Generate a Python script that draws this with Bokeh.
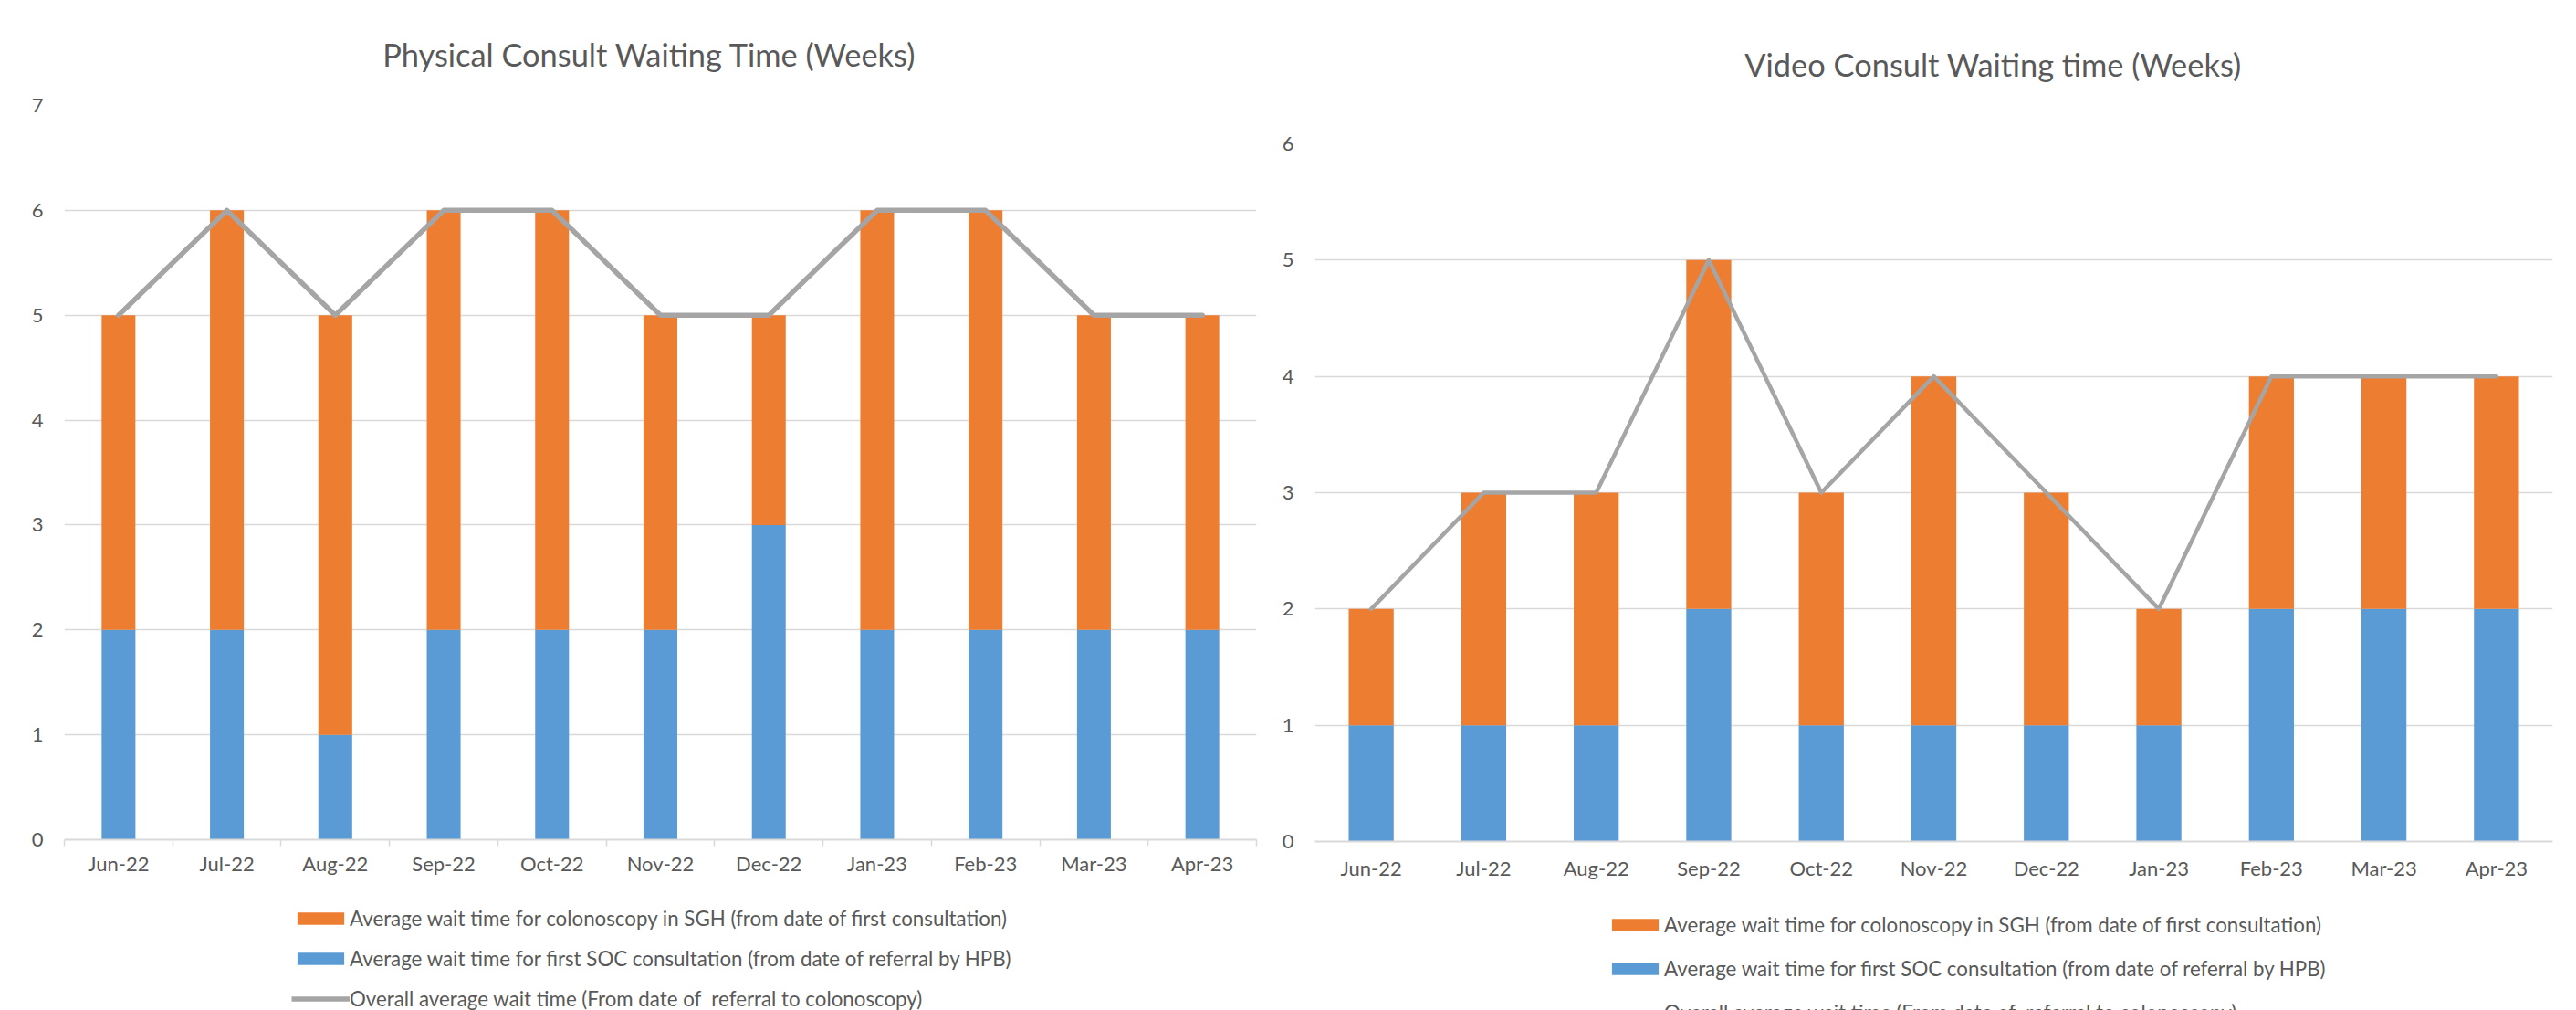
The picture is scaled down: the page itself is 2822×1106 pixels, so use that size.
from bokeh.plotting import figure
from bokeh.models import (FactorRange, Range1d, ColumnDataSource, FixedTicker, LinearAxis,
                          Legend, LegendItem, Label)
from bokeh.layouts import row, column
from bokeh.embed import file_html
from bokeh.resources import INLINE

# ---------------- data ----------------
months = ["Jun-22", "Jul-22", "Aug-22", "Sep-22", "Oct-22", "Nov-22",
          "Dec-22", "Jan-23", "Feb-23", "Mar-23", "Apr-23"]

physical_soc = [2, 2, 1, 2, 2, 2, 3, 2, 2, 2, 2]
physical_colonoscopy = [3, 4, 4, 4, 4, 3, 2, 4, 4, 3, 3]
physical_overall = [5, 6, 5, 6, 6, 5, 5, 6, 6, 5, 5]

video_soc = [1, 1, 1, 2, 1, 1, 1, 1, 2, 2, 2]
video_colonoscopy = [1, 2, 2, 3, 2, 3, 2, 1, 2, 2, 2]
video_overall = [2, 3, 3, 5, 3, 4, 3, 2, 4, 4, 4]

physical_yticks = [0, 1, 2, 3, 4, 5, 6, 7]
video_yticks = [0, 1, 2, 3, 4, 5, 6]

label_colonoscopy = "Average wait time for colonoscopy in SGH (from date of first consultation)"
label_soc = "Average wait time for first SOC consultation (from date of referral by HPB)"
label_overall = "Overall average wait time (From date of  referral to colonoscopy)"

physical_title = "Physical Consult Waiting Time (Weeks)"
video_title = "Video Consult Waiting time (Weeks)"

# ---------------- style ----------------
BLUE = "#5B9BD5"
ORANGE = "#ED7D31"
GRAY = "#A5A5A5"
GRID = "#D9D9D9"
TEXT = "#595959"
FONT = "Lato"
H = 1106
H_LEGEND = 126


def blank_figure(w, h):
    q = figure(x_range=Range1d(0, w), y_range=Range1d(0, h), width=w, height=h,
               output_backend="svg", toolbar_location=None,
               x_axis_location=None, y_axis_location=None,
               min_border=0, min_border_left=0, min_border_right=0,
               min_border_top=0, min_border_bottom=0)
    q.frame_align = False
    q.outline_line_color = None
    q.grid.visible = False
    return q


def make_title(text, w, h, cx, cy):
    q = blank_figure(w, h)
    q.add_layout(Label(x=cx, y=cy, text=text, text_align="center",
                       text_baseline="alphabetic", text_font=FONT,
                       text_font_size="34.4px", text_color=TEXT))
    return q


def make_chart(soc, colon, overall, yticks, fig_w, fig_h, b_left, b_right, b_top, b_bottom,
               bar_w, line_w, with_ticks, xlabel_standoff):
    src = ColumnDataSource(dict(month=months, soc=soc, colon=colon, overall=overall))
    p = figure(x_range=FactorRange(*months, range_padding=0),
               y_range=Range1d(yticks[0], yticks[-1]),
               width=fig_w, height=fig_h, output_backend="svg", toolbar_location=None,
               min_border_left=b_left, min_border_right=b_right,
               min_border_top=b_top, min_border_bottom=b_bottom)
    p.frame_align = False
    p.outline_line_color = None
    p.background_fill_color = "white"
    p.border_fill_color = "white"
    p.xgrid.visible = False
    p.ygrid.grid_line_color = GRID
    p.ygrid.grid_line_width = 1.5

    yax = p.yaxis[0]
    yax.ticker = FixedTicker(ticks=yticks)
    yax.axis_line_color = None
    yax.major_tick_line_color = None
    yax.major_tick_out = 0
    yax.major_tick_in = 0
    yax.minor_tick_line_color = None
    yax.major_label_standoff = 23
    yax.major_label_text_font = FONT
    yax.major_label_text_font_size = "22px"
    yax.major_label_text_color = TEXT

    cat_axis = p.below[0]
    cat_axis.major_tick_line_color = None
    cat_axis.major_tick_out = 0
    cat_axis.major_tick_in = 0
    cat_axis.major_label_standoff = xlabel_standoff
    cat_axis.major_label_text_font = FONT
    cat_axis.major_label_text_font_size = "22px"
    cat_axis.major_label_text_color = TEXT
    if with_ticks:
        cat_axis.axis_line_color = None
        bounds = list(range(len(months) + 1))
        tick_axis = LinearAxis(ticker=FixedTicker(ticks=bounds),
                               major_label_overrides={b: "" for b in bounds},
                               axis_line_color=GRID, axis_line_width=2,
                               major_tick_line_color=GRID, major_tick_line_width=1.5,
                               major_tick_out=7, major_tick_in=0,
                               minor_tick_line_color=None,
                               major_label_text_font_size="0px", major_label_standoff=0)
        p.below = [tick_axis, cat_axis]
    else:
        cat_axis.axis_line_color = GRID
        cat_axis.axis_line_width = 2

    p.vbar_stack(["soc", "colon"], x="month", width=bar_w, source=src,
                 fill_color=[BLUE, ORANGE], line_color=None)
    p.line(x="month", y="overall", source=src, line_color=GRAY, line_width=line_w,
           line_join="round", line_cap="round")
    return p


def make_legend(fig_w, line_w, leg_loc, leg_spacing):
    q = blank_figure(fig_w, H_LEGEND)
    # swatch renderers: their single point lies outside the visible range
    r_colon = q.vbar(x=[-50], top=[-50], width=1, fill_color=ORANGE, line_color=None)
    r_soc = q.vbar(x=[-50], top=[-50], width=1, fill_color=BLUE, line_color=None)
    r_line = q.line(x=[-60, -50], y=[-60, -50], line_color=GRAY, line_width=line_w)
    legend = Legend(items=[LegendItem(label=label_colonoscopy, renderers=[r_colon]),
                           LegendItem(label=label_soc, renderers=[r_soc]),
                           LegendItem(label=label_overall, renderers=[r_line])],
                    location=leg_loc, orientation="vertical",
                    glyph_width=64, glyph_height=17, label_standoff=0,
                    spacing=leg_spacing, padding=0, margin=0,
                    border_line_color=None, background_fill_alpha=0,
                    label_text_font=FONT, label_text_font_size="22.3px",
                    label_text_color=TEXT)
    q.add_layout(legend, "center")
    return q


# left column: width 1390, title 88 high, chart down to y=980, legend below
LW = 1390
left_title = make_title(physical_title, LW, 88, 711, 29.3)
left = make_chart(physical_soc, physical_colonoscopy, physical_overall, physical_yticks,
                  LW, 892, 70, 14, 27, 61, 0.312, 5.5, True, 5)
left_legend = make_legend(LW, 5.5, (319, -1), 17)

# right column: width 1432, title 108 high
RW = 1432
right_title = make_title(video_title, RW, 108, 793, 37.7)
right = make_chart(video_soc, video_colonoscopy, video_overall, video_yticks,
                   RW, 872, 50, 26, 49, 59, 0.40, 4.5, False, 15)
right_legend = make_legend(RW, 4.5, (369, -16), 21)

layout = row(column(left_title, left, left_legend), column(right_title, right, right_legend))
open("out.html", "w").write(file_html(layout, INLINE))
